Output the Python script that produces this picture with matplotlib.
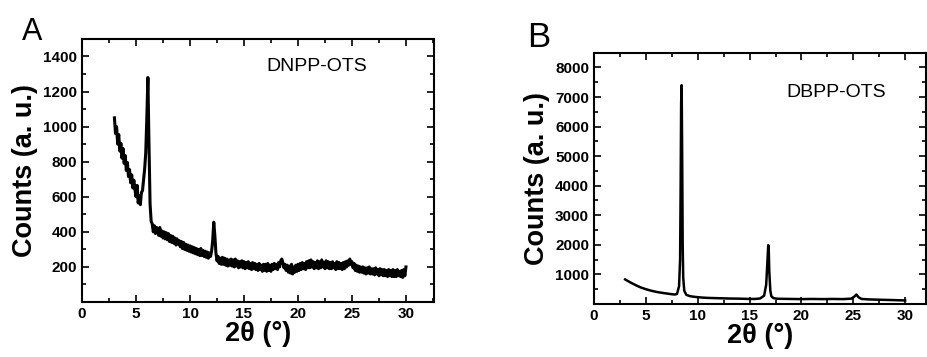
import numpy as np
import matplotlib
matplotlib.use("Agg")
import matplotlib.pyplot as plt
from matplotlib.ticker import MultipleLocator

plt.rcParams['font.family'] = ['Liberation Sans', 'DejaVu Sans']
plt.rcParams['font.weight'] = 'bold'
plt.rcParams['axes.labelweight'] = 'bold'

# panel A: DNPP-OTS, scan 3-30 deg, step 0.1
two_theta_a = np.round(np.arange(3.0, 30.05, 0.1), 1)
counts_a = [
    1050, 960, 1000, 900, 955, 860, 905, 820, 875, 790,   # 3
    835, 750, 795, 715, 755, 680, 725, 650, 695, 640,     # 4
    600, 665, 565, 605, 555, 625, 635, 700, 760, 850,     # 5
    1050, 1280, 900, 560, 460, 445, 400, 435, 390, 425,   # 6
    415, 380, 425, 375, 405, 365, 400, 360, 395, 355,     # 7
    390, 345, 380, 340, 375, 335, 365, 325, 360, 330,     # 8
    350, 315, 345, 305, 340, 300, 330, 295, 325, 290,     # 9
    320, 285, 315, 280, 310, 275, 305, 270, 300, 265,     # 10
    305, 265, 295, 260, 290, 255, 285, 250, 280, 260,     # 11
    290, 350, 455, 380, 280, 235, 260, 220, 250, 215,     # 12
    255, 215, 250, 210, 245, 205, 240, 210, 245, 205,     # 13
    240, 200, 245, 205, 235, 195, 230, 200, 235, 195,     # 14
    230, 190, 225, 195, 230, 190, 220, 185, 225, 190,     # 15
    220, 185, 215, 180, 220, 185, 210, 175, 215, 180,     # 16
    215, 175, 220, 180, 210, 175, 215, 185, 220, 190,     # 17
    215, 185, 225, 200, 235, 245, 225, 195, 215, 180,     # 18
    210, 170, 205, 165, 215, 160, 200, 170, 210, 175,     # 19
    215, 180, 220, 185, 225, 190, 220, 185, 230, 195,     # 20
    235, 195, 240, 200, 230, 190, 225, 195, 235, 190,     # 21
    230, 195, 240, 200, 225, 190, 235, 195, 230, 190,     # 22
    225, 190, 230, 195, 220, 185, 230, 190, 225, 190,     # 23
    220, 185, 225, 190, 230, 200, 235, 210, 245, 215,     # 24
    230, 195, 220, 180, 210, 175, 205, 170, 200, 170,     # 25
    200, 165, 195, 160, 195, 165, 200, 160, 190, 160,     # 26
    190, 155, 195, 160, 185, 150, 190, 155, 185, 150,     # 27
    185, 150, 180, 145, 185, 150, 180, 145, 185, 145,     # 28
    180, 145, 185, 150, 175, 145, 180, 140, 185, 150,     # 29
    200,
]

# panel B: DBPP-OTS
two_theta_b = [3.0, 3.5, 4.0, 4.5, 5.0, 5.5, 6.0, 6.5, 7.0, 7.5, 7.8, 8.0, 8.2,
               8.3, 8.35, 8.4, 8.45, 8.5, 8.55, 8.6, 8.7, 8.9, 9.2, 9.5, 10.0,
               10.5, 11.0, 12.0, 13.0, 14.0, 15.0, 15.5, 16.0, 16.4, 16.6, 16.7,
               16.8, 16.85, 16.9, 17.0, 17.1, 17.3, 17.6, 18.0, 19.0, 20.0, 21.0,
               22.0, 23.0, 24.0, 24.8, 25.1, 25.3, 25.5, 25.8, 26.5, 27.0, 28.0,
               29.0, 30.0]
counts_b = [830, 730, 640, 560, 500, 450, 410, 380, 355, 330, 320, 340, 600,
            1500, 3800, 6800, 7400, 5000, 2000, 900, 450, 310, 270, 250, 230,
            215, 205, 195, 185, 180, 170, 170, 185, 280, 650, 1300,
            1990, 1800, 1100, 450, 260, 200, 180, 175, 170, 165, 170,
            165, 170, 165, 180, 250, 320, 230, 170, 155, 150, 140,
            130, 120]

fig = plt.figure(figsize=(9.27, 3.57), dpi=100)
ax_a = fig.add_axes([0.0885, 0.154, 0.3797, 0.737])
ax_b = fig.add_axes([0.6408, 0.1485, 0.358, 0.704])

ax_a.plot(two_theta_a, counts_a, color='black', lw=2.2)
ax_b.plot(two_theta_b, counts_b, color='black', lw=1.8)

for ax in (ax_a, ax_b):
    for sp in ax.spines.values():
        sp.set_linewidth(1.5)
    ax.xaxis.set_major_locator(MultipleLocator(5))
    ax.xaxis.set_minor_locator(MultipleLocator(2.5))
    ax.tick_params(which='both', direction='in', top=True, right=True,
                   labelsize=11, width=1.2)
    ax.tick_params(which='major', length=5)
    ax.tick_params(which='minor', length=3)
    ax.set_xlabel('2θ (°)', fontsize=19.5, fontweight='bold', labelpad=0)
    ax.set_ylabel('Counts (a. u.)', fontsize=19.5, fontweight='bold', labelpad=4)

ax_a.set_xlim(0, 32.6)
ax_a.set_ylim(0, 1500)
ax_a.set_yticks([200, 400, 600, 800, 1000, 1200, 1400])
ax_a.yaxis.set_minor_locator(MultipleLocator(100))

ax_b.set_xlim(0, 32)
ax_b.set_ylim(0, 8500)
ax_b.set_yticks([1000, 2000, 3000, 4000, 5000, 6000, 7000, 8000])
ax_b.yaxis.set_minor_locator(MultipleLocator(500))

ax_a.text(0.525, 0.895, 'DNPP-OTS', transform=ax_a.transAxes, fontsize=14,
          fontweight='normal', va='center')
ax_b.text(0.58, 0.84, 'DBPP-OTS', transform=ax_b.transAxes, fontsize=14,
          fontweight='normal', va='center')

fig.text(22 / 927, 1 - 40 / 357, 'A', fontsize=22, fontweight='normal')
fig.text(527 / 927, 1 - 47 / 357, 'B', fontsize=25, fontweight='normal')

fig.savefig('out.png', dpi=100)
